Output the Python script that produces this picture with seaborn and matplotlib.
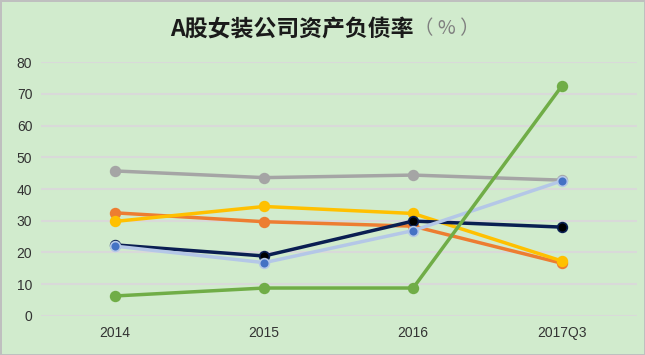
import pandas as pd
import matplotlib
matplotlib.use("Agg")
import matplotlib.pyplot as plt
import seaborn as sns

sns.set_theme(style="white")
plt.rcParams["font.family"] = ["Noto Sans CJK SC", "DejaVu Sans"]
plt.rcParams["axes.unicode_minus"] = False

BG = "#D1EBCD"
GRID = "#D9D9D9"

periods = ["2014", "2015", "2016", "2017Q3"]
gray_vals = [45.7, 43.6, 44.4, 42.8]
orange_vals = [32.5, 29.7, 28.3, 16.6]
yellow_vals = [29.8, 34.5, 32.3, 17.3]
navy_vals = [22.4, 18.9, 29.9, 28.0]
ltblue_vals = [22.0, 16.8, 26.9, 42.6]
green_vals = [6.3, 8.8, 8.8, 72.6]

# (values, line colour, marker colour)
series = [
    (gray_vals, "#A5A5A5", "#A5A5A5"),
    (orange_vals, "#ED7D31", "#ED7D31"),
    (yellow_vals, "#FFC000", "#FFC000"),
    (navy_vals, "#0A1E52", "#000000"),
    (ltblue_vals, "#B4C7E7", "#4472C4"),
    (green_vals, "#70AD47", "#70AD47"),
]

fig = plt.figure(figsize=(6.45, 3.55), dpi=100, facecolor=BG)
fig.patch.set_edgecolor("#BFBFBF")
fig.patch.set_linewidth(2)
ax = fig.add_axes([0.063, 0.110, 0.924, 0.715])
ax.set_facecolor(BG)

for vals, lc, mc in series:
    df = pd.DataFrame({"期间": periods, "资产负债率": vals})
    sns.lineplot(data=df, x="期间", y="资产负债率", color=lc, linewidth=2.5,
                 marker="o", markersize=7, markerfacecolor=mc,
                 markeredgecolor=lc, markeredgewidth=1.2, sort=False,
                 clip_on=False, ax=ax)

ax.set_xlim(-0.5, 3.5)
ax.set_ylim(0, 80)
ax.set_yticks(range(0, 81, 10))
ax.set_xlabel("")
ax.set_ylabel("")
ax.grid(axis="y", color=GRID, linewidth=1.5)
ax.set_axisbelow(True)
for s in ax.spines.values():
    s.set_visible(False)
ax.tick_params(axis="both", length=0, labelsize=10, colors="#333333")
ax.tick_params(axis="y", pad=6)
ax.tick_params(axis="x", pad=7)
for lab in ax.get_xticklabels() + ax.get_yticklabels():
    lab.set_family(["Liberation Sans", "DejaVu Sans"])

fig.text(0.642, 0.918, "A股女装公司资产负债率", ha="right", va="center",
         fontsize=16.5, fontweight="bold", color="#1A1A1A")
fig.text(0.642, 0.918, "（ % ）", ha="left", va="center",
         fontsize=14, color="#7F7F7F", family=["Noto Sans CJK SC"])

fig.savefig("out.png", dpi=100, facecolor=BG, edgecolor="#BFBFBF")
